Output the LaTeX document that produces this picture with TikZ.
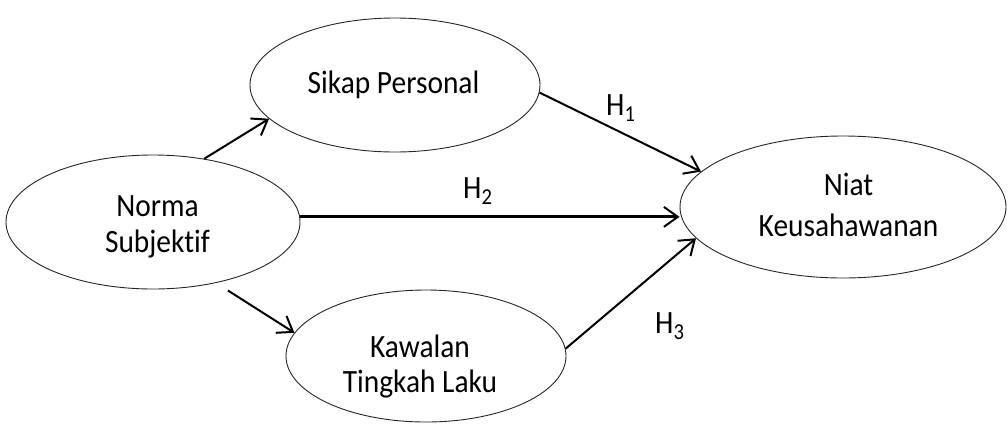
\documentclass[tikz,border=0pt]{standalone}
\usepackage{fontspec}
\setmainfont{Carlito}[FakeStretch=0.905, Ligatures=NoCommon]
\usetikzlibrary{arrows.meta,shapes.geometric}
\begin{document}
\begin{tikzpicture}[x=1pt,y=-1pt,
  ell/.style={draw=black!85, line width=0.9pt, ellipse, inner sep=0pt},
  txt/.style={font=\fontsize{32.5}{38}\selectfont, inner sep=0pt, anchor=base},
  hlab/.style={font=\fontsize{32.5}{38}\selectfont, inner sep=0pt, anchor=base west},
  tip/.style={-{Straight Barb[length=14pt,width=20pt,line width=2pt]}},
  conn/.style={line width=2pt, tip}]
\useasboundingbox (0,0) rectangle (1008,437);
\node[ell, minimum width=294pt, minimum height=134pt] (norma) at (153,222) {};
\node[ell, minimum width=290pt, minimum height=134pt] (sikap) at (395,85) {};
\node[ell, minimum width=280pt, minimum height=132pt] (kawalan) at (426,356) {};
\node[ell, minimum width=326pt, minimum height=142pt] (niat) at (843,207) {};

\node[txt] (tsikap) at (393.5,93) {Sikap Personal};
\node[txt] (tnorma1) at (157.5,216) {Norma};
\node[txt] (tnorma2) at (157.5,252) {Subjektif};
\node[txt] (tkaw1) at (420,357) {Kawalan};
\node[txt] (tkaw2) at (420,392) {Tingkah Laku};
\node[txt] (tniat1) at (848.5,195) {Niat};
\node[txt] (tniat2) at (848.5,236) {Keusahawanan};

\draw[conn] (norma.51) -- (sikap.195);
\draw[conn, shorten <=14pt] (norma.-44) -- (kawalan.170);
\draw[conn] (sikap.-3) -- (niat.166);
\coordinate (h2s) at (norma.2.7);
\draw[line width=3pt, tip] (h2s) -- (niat.west |- h2s);
\draw[conn] (kawalan.3) -- (niat.192);

\node[hlab] (h1) at (606,115) {H\textsubscript{1}};
\node[hlab] (h2) at (463,198) {H\textsubscript{2}};
\node[hlab] (h3) at (655,333) {H\textsubscript{3}};
\end{tikzpicture}
\end{document}
